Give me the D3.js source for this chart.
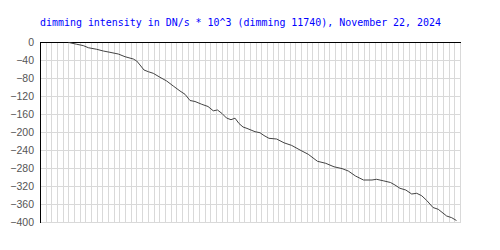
<!DOCTYPE html>
<html><head><meta charset="utf-8">
<script src="https://cdn.jsdelivr.net/npm/d3@7"></script>
<style>body{margin:0;background:#fff}svg{display:block}</style>
</head><body>
<script>
const title = "dimming intensity in DN/s * 10^3 (dimming 11740), November 22, 2024";
const yTicks = [0, -40, -80, -120, -160, -200, -240, -280, -320, -360, -400];
const xGrid = d3.range(0, 75);
const xPos = [5, 6.47, 7.63, 8.51, 9.99, 11.15, 12.33, 13.79, 14.98, 16.44, 17.04, 17.62, 18.32, 19.08, 19.96, 21.14, 22.32, 23.48, 24.67, 25.55, 26.43, 27.31, 28.49, 29.6, 30.53, 31.27, 32.07, 32.86, 33.65, 34.36, 35.06, 35.77, 36.47, 37.88, 38.76, 39.46, 40.34, 41.7, 42.99, 44.34, 45.81, 47.27, 48.89, 50.35, 51.8, 53.21, 54.32, 55.59, 57, 58.49, 59.29, 60.48, 61.75, 62.54, 63.42, 64.45, 65.49, 66.37, 67.25, 68.13, 69.24, 70.17, 71.65, 72.53, 73.38];
const dimming = [-1, -5, -8, -12.7, -16.2, -20, -22.9, -26.7, -32.7, -37.8, -42.2, -51.1, -62.2, -66, -69.6, -78.4, -86.7, -97.8, -108.9, -116.2, -130, -132.2, -138.4, -143.3, -152.9, -151.1, -158.9, -168.9, -172.7, -169.3, -181.1, -188.9, -192, -199.3, -201.6, -207.8, -214, -215.6, -224, -229.8, -240, -249.6, -265.1, -269.6, -277.3, -281.3, -286.7, -297.8, -306.7, -306.7, -305.1, -308.4, -312.2, -317.8, -325.1, -328.9, -337.8, -336.2, -341.6, -352, -367.8, -371.8, -386.7, -390.4, -396.7];

const W = 500, H = 250;
const m = {left: 40, right: 40, top: 42, bottom: 28};
const svg = d3.select("body").append("svg").attr("width", W).attr("height", H);
const x = d3.scaleLinear().domain([0, 74]).range([m.left, W - m.right]);
const y = d3.scaleLinear().domain([0, -400]).range([m.top, H - m.bottom]);
const crisp = v => Math.round(v) + 0.5;

// vertical grid
svg.append("g").selectAll("line").data(xGrid.slice(1)).join("line")
  .attr("x1", d => crisp(x(d))).attr("x2", d => crisp(x(d)))
  .attr("y1", y(0)).attr("y2", y(-400) + 0.5)
  .attr("stroke", "#d9d9d9").attr("stroke-width", 1);
// horizontal grid
svg.append("g").selectAll("line").data(yTicks.slice(1)).join("line")
  .attr("x1", m.left).attr("x2", crisp(x(74)) + 0.5)
  .attr("y1", d => crisp(y(d))).attr("y2", d => crisp(y(d)))
  .attr("stroke", "#d9d9d9").attr("stroke-width", 1);

// y axis
const yAxis = d3.axisLeft(y).tickValues(yTicks).tickSize(0).tickPadding(6).tickFormat(d3.format("d"));
const ga = svg.append("g").attr("transform", `translate(${m.left},0)`).call(yAxis);
ga.select(".domain").remove();
ga.selectAll("text").attr("font-family", "Liberation Sans, Arial, sans-serif").attr("font-size", 10.5).attr("fill", "#555");
// axis lines
svg.append("line").attr("x1", crisp(m.left)).attr("x2", crisp(m.left))
  .attr("y1", y(0)).attr("y2", y(-400) + 1).attr("stroke", "#000");
svg.append("line").attr("x1", m.left).attr("x2", crisp(x(74)) + 0.5)
  .attr("y1", crisp(y(0))).attr("y2", crisp(y(0))).attr("stroke", "#000");

// data line
const pts = xPos.map((v, i) => [v, dimming[i]]);
svg.append("path").datum(pts)
  .attr("d", d3.line().x(d => x(d[0])).y(d => y(d[1])))
  .attr("fill", "none").attr("stroke", "#444").attr("stroke-width", 1);

// title
svg.append("text").attr("x", 40).attr("y", 25.5)
  .attr("font-family", "DejaVu Sans Mono, monospace").attr("font-size", 10)
  .attr("fill", "#0000ff").attr("textLength", 401).attr("lengthAdjust", "spacingAndGlyphs")
  .text(title);
</script>
</body></html>
